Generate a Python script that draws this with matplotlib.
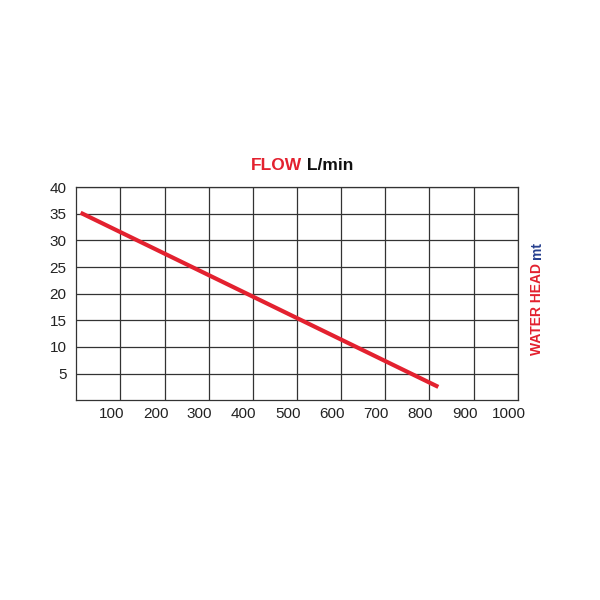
import matplotlib.pyplot as plt
import matplotlib.transforms as mtransforms

plt.rcParams['font.family'] = ['Liberation Sans', 'DejaVu Sans']

# curve of the pump (flow L/min, head m)
flow = [10, 820]
head = [35.2, 2.5]

x_ticks = [100, 200, 300, 400, 500, 600, 700, 800, 900, 1000]
y_ticks = [5, 10, 15, 20, 25, 30, 35, 40]

RED = '#e3212f'
BLUE = '#27408f'
GRID = '#333333'

fig = plt.figure(figsize=(6, 6), dpi=100)
ax = fig.add_axes([0.127, 0.333, 0.736, 0.355])

ax.plot(flow, head, color=RED, lw=3, solid_capstyle='butt', zorder=3)

ax.set_xlim(0, 1000)
ax.set_ylim(0, 40)
ax.set_xticks(x_ticks)
ax.set_yticks(y_ticks)
ax.grid(True, color=GRID, lw=0.9)
for s in ax.spines.values():
    s.set_color(GRID)
    s.set_linewidth(0.9)
ax.tick_params(length=0, labelsize=11, colors='#222222')
ax.tick_params(axis='x', pad=5)
ax.tick_params(axis='y', pad=7)

# x labels sit a bit to the left of their grid lines
shift = mtransforms.ScaledTranslation(-9 / 100, 0, fig.dpi_scale_trans)
for lab in ax.get_xticklabels():
    lab.set_transform(lab.get_transform() + shift)

# title in two colours
fig.text(0.503, 0.725, 'FLOW', color=RED, fontsize=12.5, weight='bold',
         ha='right', va='center')
fig.text(0.503, 0.725, ' L/min', color='#111111', fontsize=12.5, weight='bold',
         ha='left', va='center')

# right side label, rotated
fig.text(0.895, 0.562, 'WATER HEAD', color=RED, fontsize=10, weight='bold',
         rotation=90, ha='center', va='top')
fig.text(0.895, 0.568, 'mt', color=BLUE, fontsize=10, weight='bold',
         rotation=90, ha='center', va='bottom')

fig.savefig('out.png', dpi=100, facecolor='white')
